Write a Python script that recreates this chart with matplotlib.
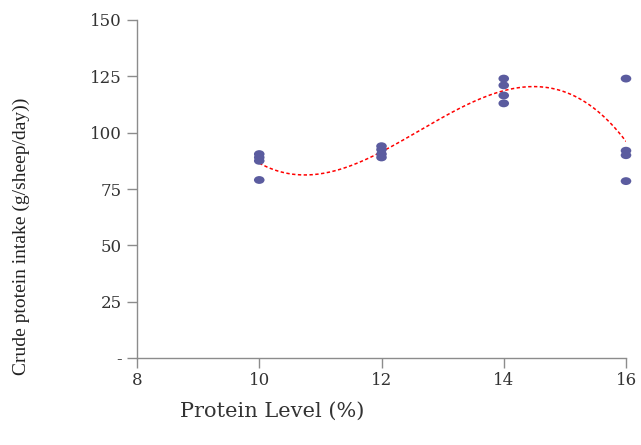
import numpy as np
import matplotlib
matplotlib.use("Agg")
import matplotlib.pyplot as plt
from matplotlib.markers import MarkerStyle
from matplotlib.transforms import Affine2D

# Data
protein_level = [10, 10, 10, 10,
                 12, 12, 12, 12,
                 14, 14, 14, 14,
                 16, 16, 16, 16]
cp_intake = [90.5, 89.0, 87.5, 79.0,
             94.0, 92.5, 90.5, 89.0,
             124.0, 121.0, 116.5, 113.0,
             124.0, 92.0, 90.0, 78.5]
x_ticks = [8, 10, 12, 14, 16]
y_ticks = [0, 25, 50, 75, 100, 125, 150]
y_tick_labels = ["-", "25", "50", "75", "100", "125", "150"]

plt.rcParams['font.family'] = ['DejaVu Serif', 'Liberation Serif']

fig = plt.figure(figsize=(6.41, 4.45), dpi=100)
ax = fig.add_axes([137/641, 1-358/445, (626-137)/641, (358-20)/445])

marker = MarkerStyle('o', transform=Affine2D().scale(1.35, 1.0))
ax.scatter(protein_level, cp_intake, marker=marker, s=32, color='#5B5C9F',
           edgecolors='none', zorder=3, clip_on=False)

# polynomial (order 3) trendline
coef = np.polyfit(protein_level, cp_intake, 3)
xs = np.linspace(min(protein_level), max(protein_level), 200)
ax.plot(xs, np.polyval(coef, xs), color='#FF0000', lw=1.1,
        linestyle=(0, (2.2, 1.6)), zorder=2)

ax.set_xlim(8, 16)
ax.set_ylim(0, 150)
ax.set_xticks(x_ticks)
ax.set_xticklabels([str(t) for t in x_ticks])
ax.set_yticks(y_ticks)
ax.set_yticklabels(y_tick_labels)

for s in ['top', 'right']:
    ax.spines[s].set_visible(False)
for s in ['left', 'bottom']:
    ax.spines[s].set_color('#8C8C8C')
    ax.spines[s].set_linewidth(1.0)

ax.tick_params(axis='both', direction='out', length=7, width=1.0,
               color='#8C8C8C', labelsize=12, labelcolor='#333333')
ax.tick_params(axis='y', pad=4)
ax.tick_params(axis='x', pad=3)

ax.set_xlabel("Protein Level (%)", fontsize=15, color='#333333')
ax.xaxis.set_label_coords(0.277, -0.13)
ax.set_ylabel("Crude ptotein intake (g/sheep/day))", fontsize=14,
              color='#222222', family='Liberation Serif')
ax.yaxis.set_label_coords(-0.219, 0.36)

fig.savefig("out.png", dpi=100)
